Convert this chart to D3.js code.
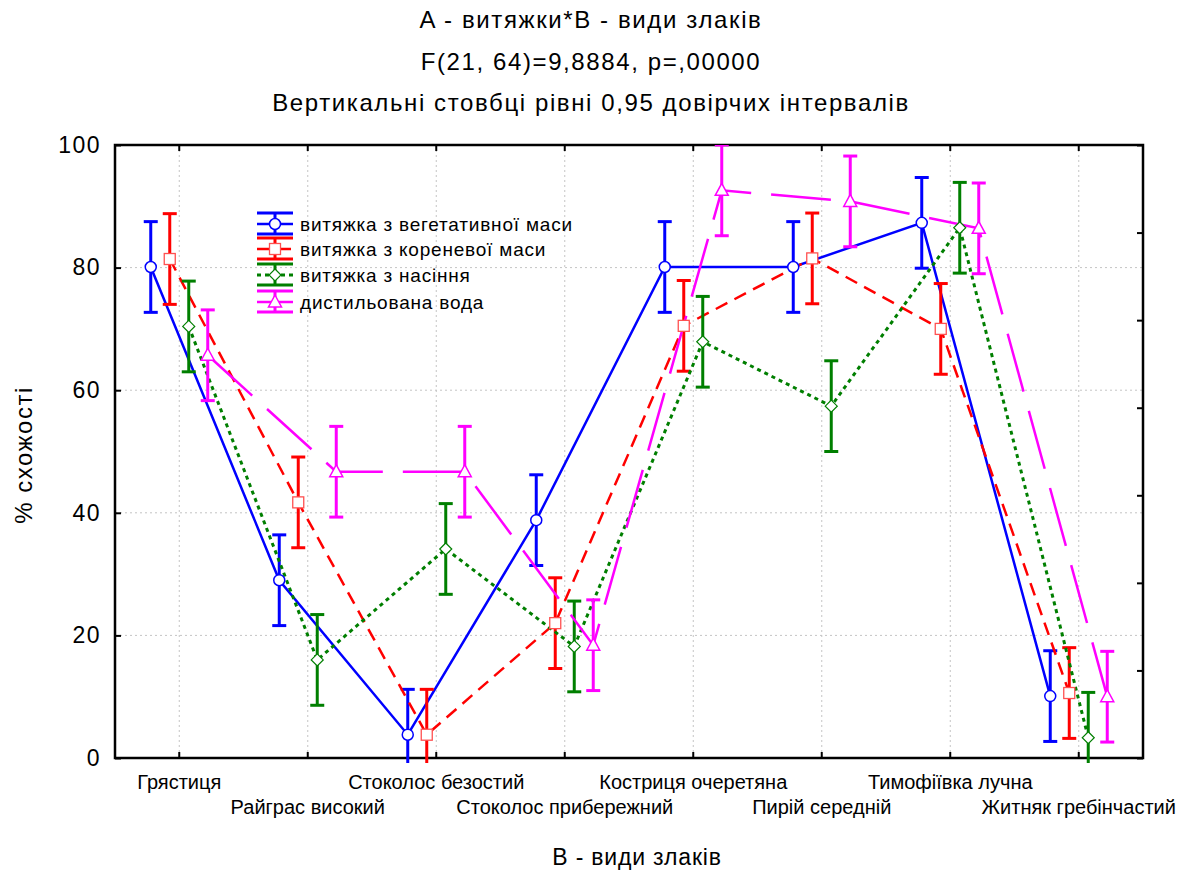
<!DOCTYPE html>
<html>
<head>
<meta charset="utf-8">
<script src="https://cdn.jsdelivr.net/npm/d3@7"></script>
<style>
  html, body { margin: 0; padding: 0; background: #fff; }
  svg { display: block; font-family: "Liberation Sans", Arial, sans-serif; }
</style>
</head>
<body>
<svg id="chart" width="1186" height="870"></svg>
<script>
// ---- data ----
const categories = ["Грястиця", "Райграс високий", "Стоколос безостий", "Стоколос прибережний",
  "Костриця очеретяна", "Пирій середній", "Тимофіївка лучна", "Житняк гребінчастий"];
const seriesNames = ["витяжка з вегетативної маси", "витяжка з кореневої маси", "витяжка з насіння", "дистильована вода"];
const vegetative = [80.1, 29.0, 3.8, 38.8, 80.1, 80.1, 87.3, 10.1];
const root =       [81.4, 41.7, 3.8, 22.0, 70.5, 81.5, 70.0, 10.6];
const seed =       [70.4, 16.0, 34.1, 18.2, 67.9, 57.4, 86.5, 3.3];
const water =      [65.7, 46.7, 46.7, 18.4, 92.6, 90.8, 86.4, 10.0];
const ciHalf = [7.4, 7.4, 7.4, 7.4];
const yTicks = [0, 20, 40, 60, 80, 100];
const titleLines = ["A - витяжки*B - види злаків", "F(21, 64)=9,8884, p=,00000", "Вертикальні стовбці рівні 0,95 довірчих інтервалів"];
const xTitle = "B - види злаків";
const yTitle = "% схожості";

const seriesValues = [vegetative, root, seed, water];
const styles = [
  {color: "#0000ff", dash: null, marker: "circle", width: 2.5},
  {color: "#ff0000", dash: "13,8", marker: "square", width: 2.5},
  {color: "#007f00", dash: "4,4", marker: "diamond", width: 3},
  {color: "#ff00ff", dash: "60,20", marker: "triangle", width: 2.5}
];

const svg = d3.select("#chart");
const L = 115, R = 1143, T = 145, B = 758;

const x = d3.scaleBand().domain(categories).range([L, R]);
const off = d3.scalePoint().domain(seriesNames).range([-28.5, 28.5]);
const y = d3.scaleLinear().domain([0, 100]).range([B, T]);
const cx = c => x(c) + x.bandwidth() / 2;

// titles
svg.append("g").selectAll("text").data(titleLines).join("text")
  .attr("x", 591).attr("y", (d, i) => 28 + i * 41.5)
  .attr("text-anchor", "middle").attr("font-size", 24).attr("letter-spacing", 1.6).attr("fill", "#000")
  .text(d => d);

// clip
svg.append("defs").append("clipPath").attr("id", "clip")
  .append("rect").attr("x", L).attr("y", T).attr("width", R - L).attr("height", B - T + 5);

// grid
const grid = svg.append("g").attr("stroke", "#c4c4c4").attr("stroke-width", 1).attr("stroke-dasharray", "2,3");
grid.selectAll("line.h").data(yTicks.filter(t => t > 0 && t < 100)).join("line")
  .attr("x1", L).attr("x2", R).attr("y1", d => y(d)).attr("y2", d => y(d));
grid.selectAll("line.v").data(categories).join("line")
  .attr("x1", d => cx(d)).attr("x2", d => cx(d)).attr("y1", T).attr("y2", B);

// axes (inward ticks)
const axisG = svg.append("g");
const yAxis = d3.axisLeft(y).tickValues(yTicks).tickSize(-6).tickPadding(14).tickFormat(d3.format("d"));
axisG.append("g").attr("transform", `translate(${L},0)`).call(yAxis)
  .call(g => g.select(".domain").remove())
  .call(g => g.selectAll("line").attr("stroke", "#000").attr("stroke-width", 2))
  .call(g => g.selectAll("text").attr("font-size", 23).attr("letter-spacing", 1.5)
    .attr("font-family", "Liberation Sans, Arial, sans-serif").attr("fill", "#000"));

const yRight = d3.scaleLinear().domain([0, 7]).range([B, T]);
axisG.append("g").attr("transform", `translate(${R},0)`)
  .call(d3.axisRight(yRight).ticks(7).tickSize(-6).tickFormat(""))
  .call(g => g.select(".domain").remove())
  .call(g => g.selectAll("line").attr("stroke", "#000").attr("stroke-width", 2));

axisG.append("g").attr("transform", `translate(0,${T})`)
  .call(d3.axisTop(x).tickSize(-6).tickFormat(""))
  .call(g => g.select(".domain").remove())
  .call(g => g.selectAll("line").attr("stroke", "#000").attr("stroke-width", 2));

const xAxisG = axisG.append("g").attr("transform", `translate(0,${B})`)
  .call(d3.axisBottom(x).tickSize(-6).tickPadding(0))
  .call(g => g.select(".domain").remove())
  .call(g => g.selectAll("line").attr("stroke", "#000").attr("stroke-width", 2));
xAxisG.selectAll("text")
  .attr("font-family", "'Liberation Sans Narrow', 'Arial Narrow', sans-serif")
  .attr("font-size", 20).attr("fill", "#000")
  .attr("dy", null)
  .attr("y", (d, i) => i % 2 === 0 ? 31 : 56);

// frame
svg.append("rect").attr("x", L).attr("y", T).attr("width", R - L).attr("height", B - T)
  .attr("fill", "none").attr("stroke", "#000").attr("stroke-width", 2.5);

// axis titles
svg.append("text").attr("x", 637).attr("y", 865).attr("text-anchor", "middle")
  .attr("font-size", 23).attr("letter-spacing", 0.8).attr("fill", "#000").text(xTitle);
svg.append("text").attr("transform", "translate(32,455) rotate(-90)").attr("text-anchor", "middle")
  .attr("font-size", 24).attr("letter-spacing", 1.5).attr("fill", "#000").text(yTitle);

// series
const plot = svg.append("g").attr("clip-path", "url(#clip)");
const markersG = svg.append("g");

function drawMarker(g, type, color, px, py) {
  if (type === "circle") {
    g.append("circle").attr("cx", px).attr("cy", py).attr("r", 5.5)
      .attr("fill", "#fff").attr("stroke", color).attr("stroke-width", 1.5);
  } else if (type === "square") {
    g.append("rect").attr("x", px - 5.5).attr("y", py - 5.5).attr("width", 11).attr("height", 11)
      .attr("fill", "#fff").attr("stroke", "#ff5050").attr("stroke-width", 1.3);
  } else if (type === "diamond") {
    g.append("path").attr("d", `M${px},${py - 6}L${px + 6},${py}L${px},${py + 6}L${px - 6},${py}Z`)
      .attr("fill", "#fff").attr("stroke", color).attr("stroke-width", 1.2);
  } else {
    g.append("path").attr("d", `M${px},${py - 7}L${px + 6.5},${py + 5}L${px - 6.5},${py + 5}Z`)
      .attr("fill", "#fff").attr("stroke", color).attr("stroke-width", 1.5);
  }
}

seriesNames.forEach((name, si) => {
  const st = styles[si];
  const vals = seriesValues[si];
  const pts = categories.map((c, i) => ({c, v: vals[i], px: cx(c) + off(name)}));
  const g = plot.append("g");
  const line = d3.line().x(d => d.px).y(d => y(d.v));
  g.append("path").datum(pts).attr("d", line)
    .attr("fill", "none").attr("stroke", st.color).attr("stroke-width", st.width)
    .attr("stroke-dasharray", st.dash);
  // error bars
  const eb = g.append("g").attr("stroke", st.color).attr("stroke-width", 3);
  pts.forEach(d => {
    const lo = y(d.v - ciHalf[si]), hi = y(d.v + ciHalf[si]);
    eb.append("line").attr("x1", d.px).attr("x2", d.px).attr("y1", lo).attr("y2", hi);
    eb.append("line").attr("x1", d.px - 7).attr("x2", d.px + 7).attr("y1", lo).attr("y2", lo);
    eb.append("line").attr("x1", d.px - 7).attr("x2", d.px + 7).attr("y1", hi).attr("y2", hi);
  });
  const mg = markersG.append("g");
  pts.forEach(d => drawMarker(mg, st.marker, st.color, d.px, y(d.v)));
});

// legend
const leg = svg.append("g");
const legY = [224, 249, 275, 302];
seriesNames.forEach((name, si) => {
  const st = styles[si];
  const ly = legY[si];
  const g = leg.append("g");
  g.append("line").attr("x1", 257).attr("x2", 293).attr("y1", ly - 11).attr("y2", ly - 11)
    .attr("stroke", st.color).attr("stroke-width", 3);
  g.append("line").attr("x1", 257).attr("x2", 293).attr("y1", ly + 10).attr("y2", ly + 10)
    .attr("stroke", st.color).attr("stroke-width", 3);
  g.append("line").attr("x1", 275).attr("x2", 275).attr("y1", ly - 11).attr("y2", ly + 10)
    .attr("stroke", st.color).attr("stroke-width", 3);
  g.append("line").attr("x1", 257).attr("x2", 293).attr("y1", ly).attr("y2", ly)
    .attr("stroke", st.color).attr("stroke-width", st.width)
    .attr("stroke-dasharray", si === 3 ? "14,8" : st.dash);
  drawMarker(g, st.marker, st.color, 275, ly);
  g.append("text").attr("x", 300).attr("y", ly).attr("dy", "0.35em")
    .attr("font-size", 19).attr("letter-spacing", 0.8).attr("fill", "#000").text(name);
});
</script>
</body>
</html>
